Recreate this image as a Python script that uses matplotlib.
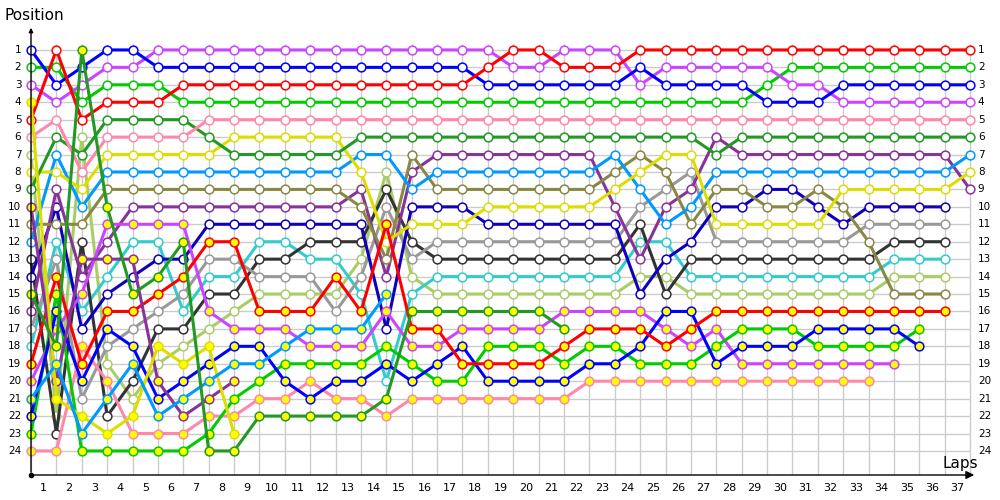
import matplotlib
matplotlib.use("Agg")
import matplotlib.pyplot as plt
import numpy as np

# positions per lap (index 0 = grid)
blue = [1, 3, 2, 1, 1, 2, 2, 2, 2, 2, 2, 2, 2, 2, 2, 2, 2, 2, 3, 3, 3, 3, 3, 3, 2, 3, 3, 3, 3, 4, 4, 4, 3, 3, 3, 3, 3, 3]
red = [5, 1, 5, 4, 4, 4, 3, 3, 3, 3, 3, 3, 3, 3, 3, 3, 3, 3, 2, 1, 1, 2, 2, 2, 1, 1, 1, 1, 1, 1, 1, 1, 1, 1, 1, 1, 1, 1]
magenta = [3, 4, 3, 2, 2, 1, 1, 1, 1, 1, 1, 1, 1, 1, 1, 1, 1, 1, 1, 2, 2, 1, 1, 1, 3, 2, 2, 2, 2, 2, 3, 3, 4, 4, 4, 4, 4, 4]
green = [2, 2, 4, 3, 3, 3, 4, 4, 4, 4, 4, 4, 4, 4, 4, 4, 4, 4, 4, 4, 4, 4, 4, 4, 4, 4, 4, 4, 4, 3, 2, 2, 2, 2, 2, 2, 2, 2]
pink = [6, 5, 8, 6, 6, 6, 6, 5, 5, 5, 5, 5, 5, 5, 5, 5, 5, 5, 5, 5, 5, 5, 5, 5, 5, 5, 5, 5, 5, 5, 5, 5, 5, 5, 5, 5, 5, 5]
dark_green = [9, 6, 7, 5, 5, 5, 5, 6, 7, 7, 7, 7, 7, 6, 6, 6, 6, 6, 6, 6, 6, 6, 6, 6, 6, 6, 6, 7, 6, 6, 6, 6, 6, 6, 6, 6, 6, 6]
yellow = [8, 8, 9, 7, 7, 7, 7, 7, 6, 6, 6, 6, 6, 8, 12, 11, 11, 11, 10, 10, 10, 10, 10, 9, 8, 7, 7, 11, 11, 11, 11, 11, 9, 9, 9, 9, 9, 8]
light_blue = [12, 7, 10, 8, 8, 8, 8, 8, 8, 8, 8, 8, 8, 7, 7, 9, 8, 8, 8, 8, 8, 8, 8, 7, 9, 11, 10, 8, 8, 8, 8, 8, 8, 8, 8, 8, 8, 7]
olive = [11, 11, 11, 9, 9, 9, 9, 9, 9, 9, 9, 9, 9, 10, 13, 7, 9, 9, 9, 9, 9, 9, 9, 8, 7, 8, 11, 9, 9, 10, 10, 9, 10, 12, 15, 15, 15]
purple = [16, 9, 14, 12, 10, 10, 10, 10, 10, 10, 10, 10, 10, 9, 14, 8, 7, 7, 7, 7, 7, 7, 7, 10, 13, 10, 9, 6, 7, 7, 7, 7, 7, 7, 7, 7, 7, 9]
navy = [14, 10, 17, 15, 14, 13, 13, 11, 11, 11, 11, 11, 11, 11, 17, 10, 10, 10, 11, 11, 11, 11, 11, 11, 15, 13, 12, 10, 10, 9, 9, 10, 11, 10, 10, 10, 10]
grey = [17, 13, 21, 18, 17, 16, 15, 13, 13, 14, 14, 14, 16, 14, 10, 13, 12, 12, 12, 12, 12, 12, 12, 12, 10, 9, 8, 12, 12, 12, 12, 12, 12, 11, 11, 11, 11]
dark_grey = [13, 23, 12, 22, 20, 17, 17, 15, 15, 13, 13, 12, 12, 12, 9, 12, 13, 13, 13, 13, 13, 13, 13, 13, 11, 15, 13, 13, 13, 13, 13, 13, 13, 13, 12, 12, 12]
teal = [18, 12, 16, 14, 12, 12, 16, 14, 14, 12, 12, 13, 13, 15, 20, 15, 14, 14, 14, 14, 14, 14, 14, 14, 12, 12, 14, 14, 14, 14, 14, 14, 14, 14, 13, 13, 13]
light_green = [7, 22, 6, 19, 21, 19, 18, 17, 16, 15, 15, 15, 15, 13, 8, 14, 15, 15, 15, 15, 15, 15, 15, 15, 14, 14, 15, 15, 15, 15, 15, 15, 15, 15, 14, 14, 14]
yellow_2 = [4, 21, 22, 23, 22, 18, 19, 18, 23]
red_2 = [19, 14, 19, 16, 16, 15, 14, 12, 12, 16, 16, 16, 14, 16, 11, 17, 17, 19, 19, 19, 19, 18, 17, 17, 17, 18, 17, 16, 16, 16, 16, 16, 16, 16, 16, 16, 16]
blue_2 = [22, 16, 20, 17, 18, 21, 20, 19, 18, 18, 20, 21, 20, 20, 19, 20, 19, 18, 20, 20, 20, 20, 19, 19, 18, 16, 16, 19, 18, 18, 18, 17, 17, 17, 17, 18]
green_2 = [23, 15, 24, 24, 24, 24, 24, 23, 21, 20, 19, 19, 19, 19, 18, 19, 20, 20, 18, 18, 18, 19, 18, 18, 19, 19, 19, 18, 17, 17, 17, 18, 18, 18, 18, 17]
magenta_2 = [20, 17, 15, 11, 11, 11, 11, 16, 17, 17, 17, 18, 18, 18, 16, 18, 18, 17, 17, 17, 17, 16, 16, 16, 16, 17, 18, 17, 19, 19, 19, 19, 19, 19, 19]
pink_2 = [24, 24, 18, 20, 23, 23, 23, 22, 22, 21, 21, 20, 21, 21, 22, 21, 21, 21, 21, 21, 21, 21, 20, 20, 20, 20, 20, 20, 20, 20, 20, 20, 20, 20]
dark_green_2 = [15, 18, 1, 10, 15, 14, 12, 24, 24, 22, 22, 22, 22, 22, 21, 16, 16, 16, 16, 16, 16, 17]
light_blue_2 = [21, 19, 23, 21, 19, 22, 21, 20, 19, 19, 18, 17, 17, 17, 15]
purple_2 = [10, 20, 13, 13, 13, 20, 22, 21, 20]

drivers = [
    (light_green, "#AACC66", "white"),
    (teal, "#33CCCC", "white"),
    (dark_grey, "#333333", "white"),
    (grey, "#999999", "white"),
    (navy, "#1100BB", "white"),
    (purple, "#883399", "white"),
    (olive, "#888844", "white"),
    (light_blue, "#0099FF", "white"),
    (yellow, "#DDDD00", "white"),
    (dark_green, "#229922", "white"),
    (pink, "#FF88AA", "white"),
    (green, "#00CC00", "white"),
    (magenta, "#CC44FF", "white"),
    (blue, "#0000FF", "white"),
    (red, "#FF0000", "white"),
    (pink_2, "#FF88AA", "#FFFF00"),
    (magenta_2, "#CC44FF", "#FFFF00"),
    (green_2, "#00CC00", "#FFFF00"),
    (blue_2, "#0000FF", "#FFFF00"),
    (red_2, "#FF0000", "#FFFF00"),
    (purple_2, "#883399", "#FFFF00"),
    (yellow_2, "#DDDD00", "#FFFF00"),
    (light_blue_2, "#0099FF", "#FFFF00"),
    (dark_green_2, "#229922", "#FFFF00"),
]

n_laps = 37
n_pos = 24

fig = plt.figure(figsize=(10, 5), dpi=100)
ax = fig.add_axes([0.031, 0.05, 0.946, 0.90])
xmax = 37.27
ax.set_xlim(0, xmax)
ax.set_ylim(25.38, -0.43)
ax.axis("off")

# grid
ax.vlines(np.arange(n_laps + 1), 0.65, 25.38, color="#CCCCCC", lw=1, zorder=0)
ax.hlines(np.arange(1, n_pos + 1), 0, n_laps, color="#CCCCCC", lw=1, zorder=0)

for pos, color, face in drivers:
    laps = np.arange(len(pos))
    ax.plot(laps, pos, "-o", color=color, lw=2.2, ms=6.3,
            mfc=face, mec=color, mew=1.1, zorder=2, clip_on=False)

# axes with arrows
ax.annotate("", xy=(0, -0.43), xytext=(0, 25.38),
            arrowprops=dict(arrowstyle="-|>", color="black", lw=1,
                            mutation_scale=6), annotation_clip=False)
ax.annotate("", xy=(xmax, 25.38), xytext=(0, 25.38),
            arrowprops=dict(arrowstyle="-|>", color="black", lw=1,
                            mutation_scale=12), annotation_clip=False)
ax.plot([0], [25.38], "o", color="black", ms=3, clip_on=False)

for p in range(1, n_pos + 1):
    ax.text(-0.38, p, str(p), ha="right", va="center", fontsize=7.5)
    ax.text(37.3, p, str(p), ha="left", va="center", fontsize=7.5)
for lap in range(1, n_laps + 1):
    ax.text(lap - 0.5, 26.1, str(lap), ha="center", va="center", fontsize=8)

fig.text(0.005, 0.97, "Position", ha="left", va="center", fontsize=11)
fig.text(0.943, 0.073, "Laps", ha="left", va="center", fontsize=11)

fig.savefig("out.png", dpi=100, facecolor="white")
